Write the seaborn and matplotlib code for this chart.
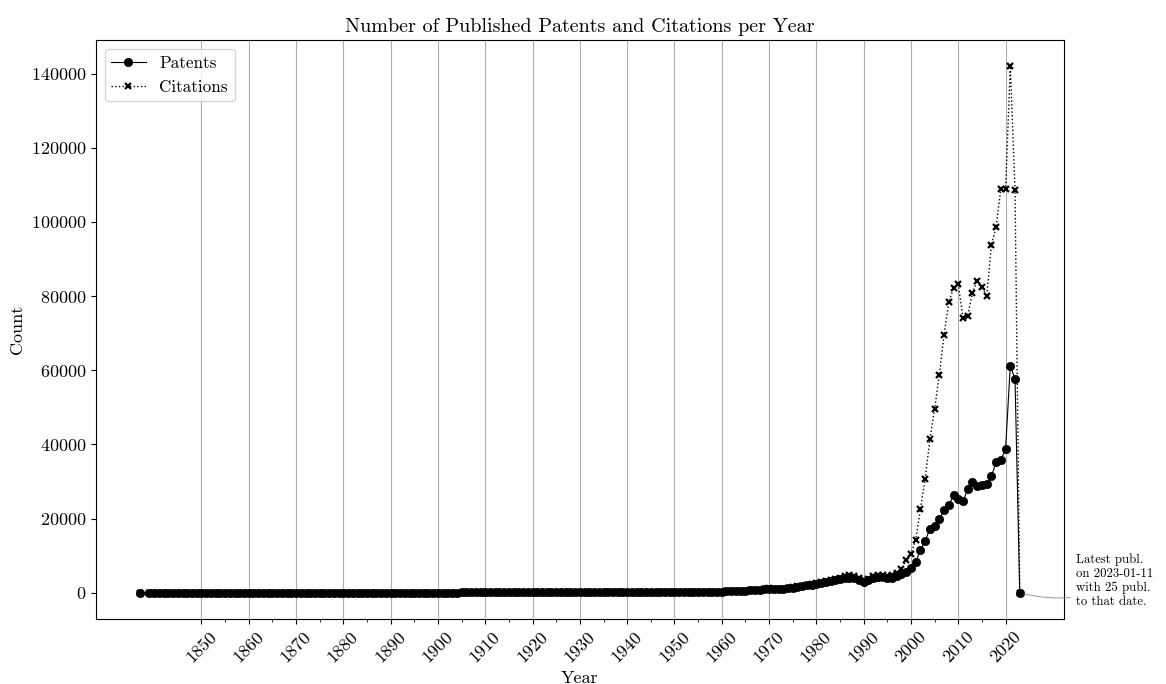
import matplotlib
matplotlib.use("Agg")
import matplotlib.pyplot as plt
import seaborn as sns

# Yearly counts of published patents and of citations they received
years_early = [1837] + list(range(1839, 1960))
years_modern = list(range(1960, 2024))

patents_early = [
    3,
    1, 1, 2, 1, 1, 2, 2, 1, 3, 2, 2,
    3, 2, 3, 4, 3, 5, 4, 4, 6, 5,
    5, 4, 6, 6, 7, 8, 9, 10, 11, 12,
    12, 14, 13, 15, 16, 15, 17, 18, 16, 19,
    21, 22, 24, 23, 26, 25, 28, 27, 30, 32,
    31, 34, 35, 33, 36, 38, 37, 40, 41, 43,
    45, 47, 50, 52, 51, 55, 58, 60, 57, 62,
    65, 63, 68, 70, 66, 61, 64, 60, 58, 67,
    72, 75, 78, 80, 84, 88, 91, 95, 98, 102,
    105, 100, 96, 92, 97, 103, 110, 115, 118, 112,
    98, 90, 85, 80, 82, 88, 105, 120, 130, 138,
    145, 150, 160, 170, 175, 185, 195, 210, 230, 250,
]
patents_modern = [
    300, 350, 400, 450, 520, 580, 650, 720, 800, 900,
    1100, 1000, 950, 1050, 1200, 1400, 1600, 1800, 2000, 2200,
    2400, 2600, 2900, 3100, 3300, 3600, 3900, 4100, 3900, 3500,
    3000, 3300, 3900, 4300, 4200, 3900, 4100, 4600, 5060, 5500,
    6690, 8200, 11640, 13900, 17250, 18100, 19950, 22400, 23560, 26270,
    25370, 24640, 27890, 29870, 28700, 28980, 29250, 31410, 35120, 35750,
    38730, 61200, 57680, 25,
]

citations_early = [
    1,
    0, 0, 1, 0, 0, 1, 1, 0, 1, 1, 1,
    1, 1, 1, 2, 1, 2, 2, 2, 3, 2,
    2, 2, 3, 3, 3, 4, 4, 5, 5, 6,
    6, 7, 6, 7, 8, 7, 8, 9, 8, 9,
    10, 11, 12, 11, 13, 12, 14, 13, 15, 16,
    15, 17, 17, 16, 18, 19, 18, 20, 20, 21,
    22, 23, 25, 26, 25, 27, 29, 30, 28, 31,
    32, 31, 34, 35, 33, 30, 32, 30, 29, 33,
    36, 37, 39, 40, 42, 44, 45, 47, 49, 51,
    52, 50, 48, 46, 48, 51, 55, 57, 59, 56,
    49, 45, 42, 40, 41, 44, 52, 60, 65, 69,
    72, 75, 80, 85, 88, 92, 98, 105, 115, 125,
]
citations_modern = [
    300, 350, 400, 450, 520, 580, 650, 720, 800, 900,
    1150, 1050, 1000, 1100, 1250, 1450, 1700, 1900, 2100, 2400,
    2700, 2900, 3200, 3400, 3700, 4100, 4400, 4700, 4500, 4000,
    3400, 3700, 4400, 4800, 4700, 4400, 4700, 5400, 6410, 8860,
    10480, 14170, 22560, 30600, 41430, 49560, 58760, 69600, 78350, 82130,
    83140, 74120, 74740, 80890, 84100, 82500, 79900, 93700, 98650, 108860,
    108860, 141980, 108590, 20,
]

years = years_early + years_modern
patents = patents_early + patents_modern
citations = citations_early + citations_modern

major_years = list(range(1850, 2021, 10))
minor_years = list(range(1855, 2021, 10))

latest_note = "Latest publ.\non 2023-01-11\nwith 25 publ.\nto that date."

plt.rcParams["font.family"] = "serif"
plt.rcParams["font.serif"] = ["cmr10", "DejaVu Serif"]
plt.rcParams["mathtext.fontset"] = "cm"
plt.rcParams["axes.formatter.use_mathtext"] = True
plt.rcParams["axes.unicode_minus"] = False

fig = plt.figure(figsize=(11.66, 6.84), dpi=100)
ax = fig.add_axes([0.0823, 0.095, 0.830, 0.8465])

sns.lineplot(x=years, y=patents, ax=ax, color="black", linewidth=0.8,
             marker="o", markersize=6, markeredgecolor="black",
             markeredgewidth=0.5, label="Patents", sort=False)
sns.lineplot(x=years, y=citations, ax=ax, color="black", linewidth=1.0,
             linestyle=":", marker="x", markersize=4.5,
             markeredgecolor="black", markeredgewidth=1.6,
             label="Citations", sort=False)

ax.set_xticks(major_years)
ax.set_xticklabels([str(y) for y in major_years], rotation=45)
ax.set_xticks(minor_years, minor=True)
ax.tick_params(axis="both", labelsize=13)
ax.grid(axis="x", which="major", color="#b0b0b0", linewidth=0.8)
ax.set_axisbelow(True)

ax.set_title("Number of Published Patents and Citations per Year", fontsize=14.5)
ax.set_xlabel("Year", fontsize=13)
ax.set_ylabel("Count", fontsize=13)

ax.annotate(latest_note, xy=(years[-1], patents[-1]), xytext=(2034.8, 3300),
            fontsize=9.2, ha="left", va="center", linespacing=1.2,
            annotation_clip=False,
            arrowprops=dict(arrowstyle="-", color="#888888", linewidth=0.6,
                            connectionstyle="arc3,rad=-0.1", relpos=(0, 0.2),
                            shrinkA=2, shrinkB=3))

ax.legend(loc="upper left", fontsize=12.3, framealpha=0.8, edgecolor="#cccccc")

fig.savefig("out.png", dpi=100)
